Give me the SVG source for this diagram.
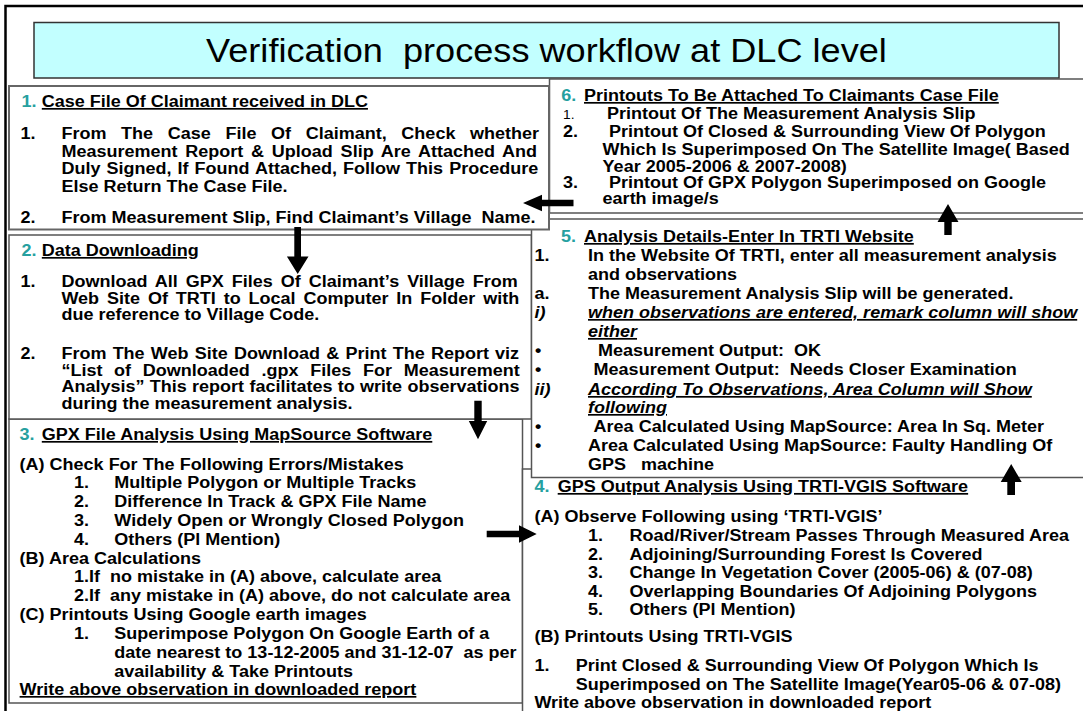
<svg xmlns="http://www.w3.org/2000/svg" width="1083" height="711" viewBox="0 0 1083 711">
<style>
.bx{fill:#fff;stroke:#555;stroke-width:1.5}
text{font-family:"Liberation Sans",Arial,Helvetica,sans-serif;font-size:17px;font-weight:bold;fill:#000}
.n{fill:#26a0a0}
.u{text-decoration:underline}
.i{font-style:italic}
.sm{font-size:13px;font-weight:normal}
.ar{fill:#000;stroke:none}
</style>
<rect width="1083" height="711" fill="#fff"/>
<path d="M5.5 711 V6 H1083" fill="none" stroke="#000" stroke-width="2.5"/>

<g id="title">
<rect x="34" y="22.5" width="1025" height="55.5" fill="#c2ffff" stroke="#333" stroke-width="1.5"/>
<text transform="matrix(1.063 0 0 1 546.5 62)" text-anchor="middle" style="font-size:34px;font-weight:normal" xml:space="preserve">Verification  process workflow at DLC level</text>
</g>

<g id="node3">
<rect class="bx" x="9" y="419" width="513.5" height="284"/>
<text class="n" transform="matrix(1.06 0 0 1 19.6 440)">3.</text>
<text class="u" transform="matrix(1.06 0 0 1 41.8 440)">GPX File Analysis Using MapSource Software</text>
<text transform="matrix(1.06 0 0 1 19.6 469.5)">(A) Check For The Following Errors/Mistakes</text>
<text transform="matrix(1.06 0 0 1 74 488)">1.</text>
<text transform="matrix(1.06 0 0 1 114.3 488)">Multiple Polygon or Multiple Tracks</text>
<text transform="matrix(1.06 0 0 1 74 507)">2.</text>
<text transform="matrix(1.06 0 0 1 114.3 507)">Difference In Track &amp; GPX File Name</text>
<text transform="matrix(1.06 0 0 1 74 526)">3.</text>
<text transform="matrix(1.06 0 0 1 114.3 526)">Widely Open or Wrongly Closed Polygon</text>
<text transform="matrix(1.06 0 0 1 74 545)">4.</text>
<text transform="matrix(1.06 0 0 1 114.3 545)">Others (Pl Mention)</text>
<text transform="matrix(1.06 0 0 1 19.6 563.5)">(B) Area Calculations</text>
<text transform="matrix(1.06 0 0 1 74 582)" xml:space="preserve">1.If  no mistake in (A) above, calculate area</text>
<text transform="matrix(1.06 0 0 1 74 601)" xml:space="preserve">2.If  any mistake in (A) above, do not calculate area</text>
<text transform="matrix(1.06 0 0 1 19.6 620)">(C) Printouts Using Google earth images</text>
<text transform="matrix(1.06 0 0 1 74 639)">1.</text>
<text transform="matrix(1.06 0 0 1 114.3 639)">Superimpose Polygon On Google Earth of a</text>
<text transform="matrix(1.06 0 0 1 114.3 658)" xml:space="preserve">date nearest to 13-12-2005 and 31-12-07  as per</text>
<text transform="matrix(1.06 0 0 1 114.3 677)">availability &amp; Take Printouts</text>
<text class="u" transform="matrix(1.06 0 0 1 19.6 695)">Write above observation in downloaded report</text>
</g>

<g id="node2">
<rect class="bx" x="9" y="235" width="522.5" height="184"/>
<text class="n" transform="matrix(1.06 0 0 1 21.4 256)">2.</text>
<text class="u" transform="matrix(1.06 0 0 1 41.8 256)">Data Downloading</text>
<text transform="matrix(1.06 0 0 1 20.4 287)">1.</text>
<text transform="matrix(1.06 0 0 1 61.4 287)" style="word-spacing:2.83px">Download All GPX Files Of Claimant’s Village From</text>
<text transform="matrix(1.06 0 0 1 61.4 303.5)" style="word-spacing:2.73px">Web Site Of TRTI to Local Computer In Folder with</text>
<text transform="matrix(1.06 0 0 1 61.4 320)">due reference to Village Code.</text>
<text transform="matrix(1.06 0 0 1 20.4 359)">2.</text>
<text transform="matrix(1.06 0 0 1 61.4 359)" style="word-spacing:1.15px">From The Web Site Download &amp; Print The Report viz</text>
<text transform="matrix(1.06 0 0 1 61.4 375.5)" style="word-spacing:6.32px">“List of Downloaded .gpx Files For Measurement</text>
<text transform="matrix(1.06 0 0 1 61.4 392)" style="word-spacing:0.3px">Analysis” This report facilitates to write observations</text>
<text transform="matrix(1.06 0 0 1 61.4 408.5)">during the measurement analysis.</text>
</g>

<g id="node4">
<rect class="bx" x="522.5" y="469" width="570" height="250"/>
<text class="n" transform="matrix(1.06 0 0 1 534.4 492)">4.</text>
<text class="u" transform="matrix(1.06 0 0 1 557.7 492)">GPS Output Analysis Using TRTI-VGIS Software</text>
<text transform="matrix(1.06 0 0 1 534.4 521.5)">(A) Observe Following using ‘TRTI-VGIS’</text>
<text transform="matrix(1.06 0 0 1 588 541)">1.</text>
<text transform="matrix(1.06 0 0 1 629.5 541)">Road/River/Stream Passes Through Measured Area</text>
<text transform="matrix(1.06 0 0 1 588 559.5)">2.</text>
<text transform="matrix(1.06 0 0 1 629.5 559.5)">Adjoining/Surrounding Forest Is Covered</text>
<text transform="matrix(1.06 0 0 1 588 578)">3.</text>
<text transform="matrix(1.06 0 0 1 629.5 578)">Change In Vegetation Cover (2005-06) &amp; (07-08)</text>
<text transform="matrix(1.06 0 0 1 588 596.5)">4.</text>
<text transform="matrix(1.06 0 0 1 629.5 596.5)">Overlapping Boundaries Of Adjoining Polygons</text>
<text transform="matrix(1.06 0 0 1 588 615)">5.</text>
<text transform="matrix(1.06 0 0 1 629.5 615)">Others (Pl Mention)</text>
<text transform="matrix(1.06 0 0 1 534.4 642)">(B) Printouts Using TRTI-VGIS</text>
<text transform="matrix(1.06 0 0 1 534.4 670.5)">1.</text>
<text transform="matrix(1.06 0 0 1 575.7 670.5)">Print Closed &amp; Surrounding View Of Polygon Which Is</text>
<text transform="matrix(1.06 0 0 1 575.7 689.5)">Superimposed on The Satellite Image(Year05-06 &amp; 07-08)</text>
<text transform="matrix(1.06 0 0 1 534.4 707.5)">Write above observation in downloaded report</text>
</g>

<g id="node5">
<rect class="bx" x="531.5" y="219" width="560" height="258.5"/>
<text class="n" transform="matrix(1.06 0 0 1 561 242)">5.</text>
<text class="u" transform="matrix(1.06 0 0 1 584 242)">Analysis Details-Enter In TRTI Website</text>
<text transform="matrix(1.06 0 0 1 534.4 261)">1.</text>
<text transform="matrix(1.06 0 0 1 588 261)">In the Website Of TRTI, enter all measurement analysis</text>
<text transform="matrix(1.06 0 0 1 588 279.5)">and observations</text>
<text transform="matrix(1.06 0 0 1 534.4 298.5)">a.</text>
<text transform="matrix(1.06 0 0 1 588 298.5)">The Measurement Analysis Slip will be generated.</text>
<text class="i" transform="matrix(1.06 0 0 1 534.4 318)">i)</text>
<text class="i u" transform="matrix(1.06 0 0 1 588 318)">when observations are entered, remark column will show</text>
<text class="i u" transform="matrix(1.06 0 0 1 588 337)">either</text>
<text transform="matrix(1.06 0 0 1 535 356)">•</text>
<text transform="matrix(1.06 0 0 1 598 356)" xml:space="preserve">Measurement Output:  OK</text>
<text transform="matrix(1.06 0 0 1 535 375)">•</text>
<text transform="matrix(1.06 0 0 1 593.6 375)" xml:space="preserve">Measurement Output:  Needs Closer Examination</text>
<text class="i" transform="matrix(1.06 0 0 1 534.4 395)">ii)</text>
<text class="i u" transform="matrix(1.06 0 0 1 588 395)">According To Observations, Area Column will Show</text>
<text class="i u" transform="matrix(1.06 0 0 1 588 413)">following</text>
<text transform="matrix(1.06 0 0 1 535 432)">•</text>
<text transform="matrix(1.06 0 0 1 593.6 432)">Area Calculated Using MapSource: Area In Sq. Meter</text>
<text transform="matrix(1.06 0 0 1 535 451)">•</text>
<text transform="matrix(1.06 0 0 1 588 451)">Area Calculated Using MapSource: Faulty Handling Of</text>
<text transform="matrix(1.06 0 0 1 588 470)" xml:space="preserve">GPS   machine</text>
</g>

<g id="node6">
<rect class="bx" x="549.5" y="79" width="540" height="134"/>
<text class="n" transform="matrix(1.06 0 0 1 561.3 101)">6.</text>
<text class="u" transform="matrix(1.06 0 0 1 584 101)">Printouts To Be Attached To Claimants Case File</text>
<text class="sm" transform="matrix(1.06 0 0 1 563 119)">1.</text>
<text transform="matrix(1.06 0 0 1 607 119)">Printout Of The Measurement Analysis Slip</text>
<text transform="matrix(1.06 0 0 1 563 137)">2.</text>
<text transform="matrix(1.06 0 0 1 609 137)">Printout Of Closed &amp; Surrounding View Of Polygon</text>
<text transform="matrix(1.06 0 0 1 602.6 154.5)">Which Is Superimposed On The Satellite Image( Based</text>
<text transform="matrix(1.06 0 0 1 602.6 171.5)">Year 2005-2006 &amp; 2007-2008)</text>
<text transform="matrix(1.06 0 0 1 563 188)">3.</text>
<text transform="matrix(1.06 0 0 1 609 188)">Printout Of GPX Polygon Superimposed on Google</text>
<text transform="matrix(1.06 0 0 1 602.6 204)">earth image/s</text>
</g>

<g id="node1">
<rect class="bx" x="9" y="86" width="540" height="143.5" style="stroke:#666;stroke-width:2"/>
<text class="n" transform="matrix(1.06 0 0 1 21.4 107)">1.</text>
<text class="u" transform="matrix(1.06 0 0 1 41.8 107)">Case File Of Claimant received in DLC</text>
<text transform="matrix(1.06 0 0 1 20.4 139)">1.</text>
<text transform="matrix(1.06 0 0 1 61.4 139)" style="word-spacing:9.1px">From The Case File Of Claimant, Check whether</text>
<text transform="matrix(1.06 0 0 1 61.4 156.5)" style="word-spacing:2.63px">Measurement Report &amp; Upload Slip Are Attached And</text>
<text transform="matrix(1.06 0 0 1 61.4 174)" style="word-spacing:1px">Duly Signed, If Found Attached, Follow This Procedure</text>
<text transform="matrix(1.06 0 0 1 61.4 191.5)">Else Return The Case File.</text>
<text transform="matrix(1.06 0 0 1 20.4 223)">2.</text>
<text transform="matrix(1.06 0 0 1 61.4 223)" xml:space="preserve">From Measurement Slip, Find Claimant’s Village  Name.</text>
</g>

<g id="connectors">
<polygon class="ar" points="523,203 542,194.8 542,199.8 573.5,199.8 573.5,206.2 542,206.2 542,211.2"/>
<polygon class="ar" points="294.3,227 301,227 301,256.5 308.5,256.5 297.7,274 286.9,256.5 294.3,256.5"/>
<polygon class="ar" points="474.3,400.7 481.7,400.7 481.7,421 487.2,421 478,439.3 468.8,421 474.3,421"/>
<polygon class="ar" points="486.7,530.7 519,530.7 519,525.2 536.7,534 519,542.8 519,537.3 486.7,537.3"/>
<polygon class="ar" points="1007.3,495 1015,495 1015,482 1021.7,482 1011.2,464 1000.7,482 1007.3,482"/>
<polygon class="ar" points="944.3,235 951.7,235 951.7,222 958.5,222 948,204 937.5,222 944.3,222"/>
</g>
</svg>
